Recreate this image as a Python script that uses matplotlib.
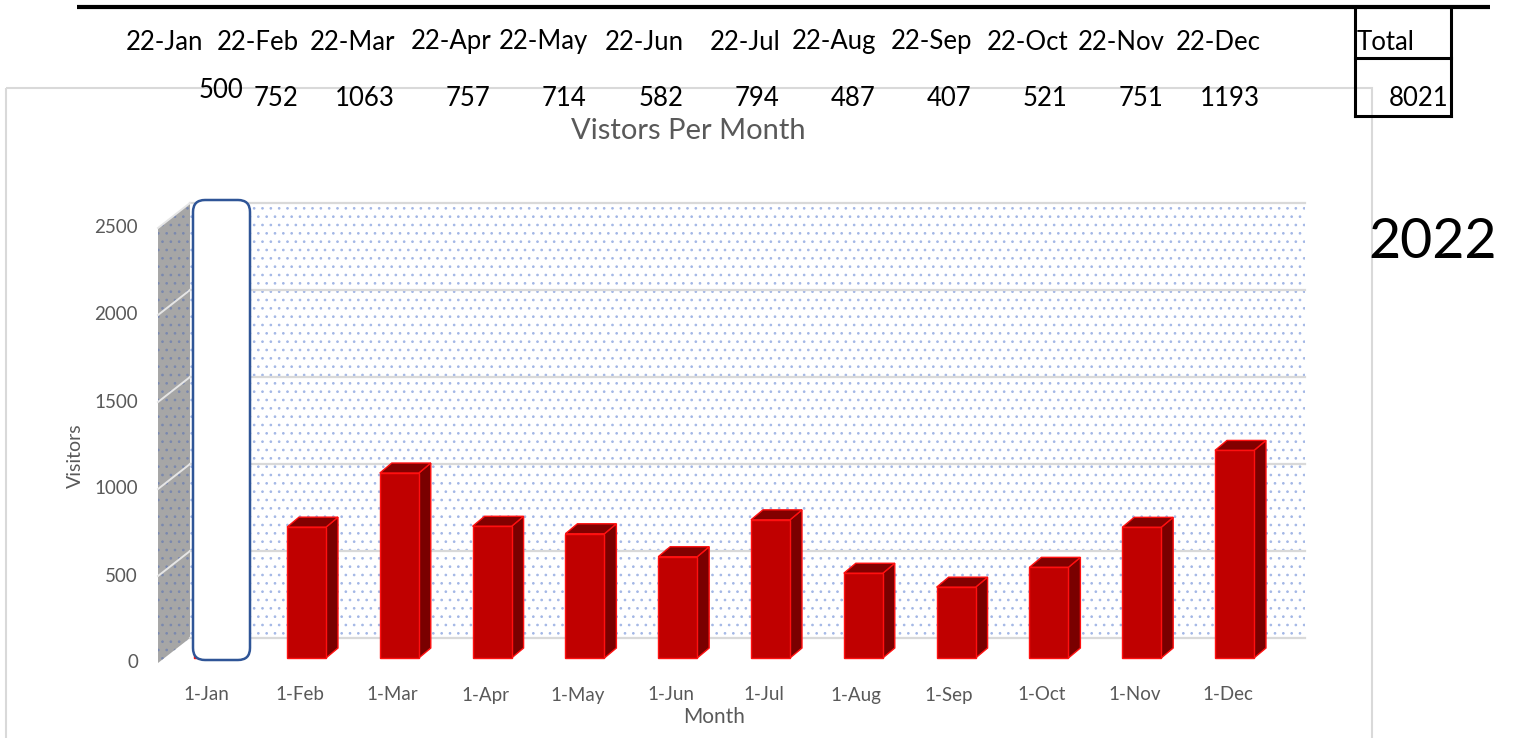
import matplotlib
matplotlib.use("Agg")
import matplotlib.pyplot as plt
from matplotlib.patches import Polygon, Rectangle, FancyBboxPatch

# data
months = ["Jan", "Feb", "Mar", "Apr", "May", "Jun",
          "Jul", "Aug", "Sep", "Oct", "Nov", "Dec"]
visitors = [500, 752, 1063, 757, 714, 582, 794, 487, 407, 521, 751, 1193]
header_labels = ["22-" + m for m in months]
axis_labels = ["1-" + m for m in months]
total_shown = 8021
year_label = "2022"
y_ticks = [0, 500, 1000, 1500, 2000, 2500]

plt.rcParams["font.family"] = ["Lato", "DejaVu Sans"]
plt.rcParams["hatch.linewidth"] = 0.7
GRAY_TXT = "#595959"

W, H = 1520, 738
fig = plt.figure(figsize=(W / 100, H / 100), dpi=100)

# pixel overlay for the spreadsheet bits around the chart
bg = fig.add_axes([0, 0, 1, 1])
bg.set_xlim(0, W)
bg.set_ylim(H, 0)
bg.axis("off")

# chart frame
bg.add_patch(Rectangle((6, 88), 1366, 700, fill=False, edgecolor="#D9D9D9", lw=1.5))

# header row with thick rule
bg.plot([77, 1490], [7, 7], color="black", lw=3, solid_capstyle="butt")
cell_w = 96.2
for i, (lab, v) in enumerate(zip(header_labels, visitors)):
    right = 203 + cell_w * i
    bg.text(right, 42, lab, ha="right", va="center", fontsize=18.5, color="black")
    if i == 0:
        bg.text(243, 91, str(v), ha="right", va="center", fontsize=18.5, color="black")
    else:
        bg.text(right - 1, 99, str(v), ha="right", va="center", fontsize=18.5, color="black")

# total box
for xs, ys in [([1355, 1355], [7, 116]), ([1451, 1451], [7, 116]),
               ([1355, 1451], [58, 58]), ([1355, 1451], [116, 116])]:
    bg.plot(xs, ys, color="black", lw=2.2, solid_capstyle="projecting")
bg.text(1357, 42, "Total", ha="left", va="center", fontsize=18.5, color="black")
bg.text(1449, 99, str(total_shown), ha="right", va="center", fontsize=18.5, color="black")
bg.text(1433, 242, year_label, ha="center", va="center", fontsize=40, color="black")

# titles
bg.text(688, 131, "Vistors Per Month", ha="center", va="center", fontsize=21, color=GRAY_TXT)
bg.text(714, 717, "Month", ha="center", va="center", fontsize=15, color=GRAY_TXT)
bg.text(75, 456, "Visitors", ha="center", va="center", rotation=90, fontsize=14, color=GRAY_TXT)

# ---- chart axes (pseudo 3D) ----
left_px, right_px, top_px, bot_px = 160, 1300, 200, 658
sx, sy = 92.8, 0.174            # pixels per month, pixels per visitor
ax = fig.add_axes([left_px / W, (H - bot_px) / H,
                   (right_px - left_px) / W, (bot_px - top_px) / H])
ax.set_xlim((left_px - 213.7) / sx, (right_px - 213.7) / sx)
ax.set_ylim(0, (bot_px - top_px) / sy)
ax.set_axis_off()

PX, PY = 1 / sx, 1 / sy
bar_dx, bar_dy = 12 * PX, 10 * PY        # bar depth
wall_dx, wall_dy = 25.5 * PX, 20 * PY    # back wall shift
front_dx, front_dy = -6.5 * PX, -5 * PY  # front plane shift
wall_l, wall_r = -0.53, 11.48
ymax = y_ticks[-1]

# back wall
ax.add_patch(Rectangle((wall_l + wall_dx, wall_dy), wall_r - wall_l, ymax,
                       facecolor="white", edgecolor="#A3B7E6", hatch="..",
                       lw=0, zorder=1, clip_on=False))
# side wall
side = [(wall_l + front_dx, front_dy), (wall_l + front_dx, ymax + front_dy),
        (wall_l + wall_dx, ymax + wall_dy), (wall_l + wall_dx, wall_dy)]
ax.add_patch(Polygon(side, closed=True, facecolor="#A6A6A6", edgecolor="#7A88AE",
                     hatch="..", lw=0, zorder=1, clip_on=False))

for t in y_ticks:
    ax.plot([wall_l + wall_dx, wall_r + wall_dx], [t + wall_dy, t + wall_dy],
            color="#D9D9D9", lw=1.6, zorder=2, clip_on=False)
    if 0 < t:
        ax.plot([wall_l + front_dx, wall_l + wall_dx], [t + front_dy, t + wall_dy],
                color="#E6E6E6", lw=1.4, zorder=2, clip_on=False)
    ax.text(wall_l + front_dx - 20 * PX, t + front_dy, str(t), ha="right",
            va="center", fontsize=13.5, color=GRAY_TXT)

# bars
bw = 0.42
xs = list(range(len(visitors)))
for x, v in zip(xs, visitors):
    r, l = x + bw / 2, x - bw / 2
    ax.add_patch(Polygon([(r, 0), (r + bar_dx, bar_dy), (r + bar_dx, v + bar_dy), (r, v)],
                         facecolor="#7A0000", edgecolor="#FF1010", lw=1, zorder=3,
                         clip_on=False))
    ax.add_patch(Polygon([(l, v), (l + bar_dx, v + bar_dy), (r + bar_dx, v + bar_dy), (r, v)],
                         facecolor="#820000", edgecolor="#FF1010", lw=1, zorder=3,
                         clip_on=False))
ax.bar(xs, visitors, width=bw, color="#C00000", edgecolor="#FF1010", lw=1,
       zorder=4, clip_on=False)

# selected January column outline
sel = FancyBboxPatch((xs[0] - 20.7 * PX, -2 * PY), 57 * PX, ymax + wall_dy + 5 * PY,
                     boxstyle="round,pad=0,rounding_size=%f" % (12 * PX),
                     mutation_aspect=PY / PX, facecolor="white",
                     edgecolor="#2F5597", lw=1.8, zorder=10, clip_on=False)
ax.add_patch(sel)

for x, lab in zip(xs, axis_labels):
    ax.text(x - 7 * PX, -37 * PY, lab, ha="center", va="center",
            fontsize=13.5, color=GRAY_TXT)

fig.savefig("out.png", dpi=100)
